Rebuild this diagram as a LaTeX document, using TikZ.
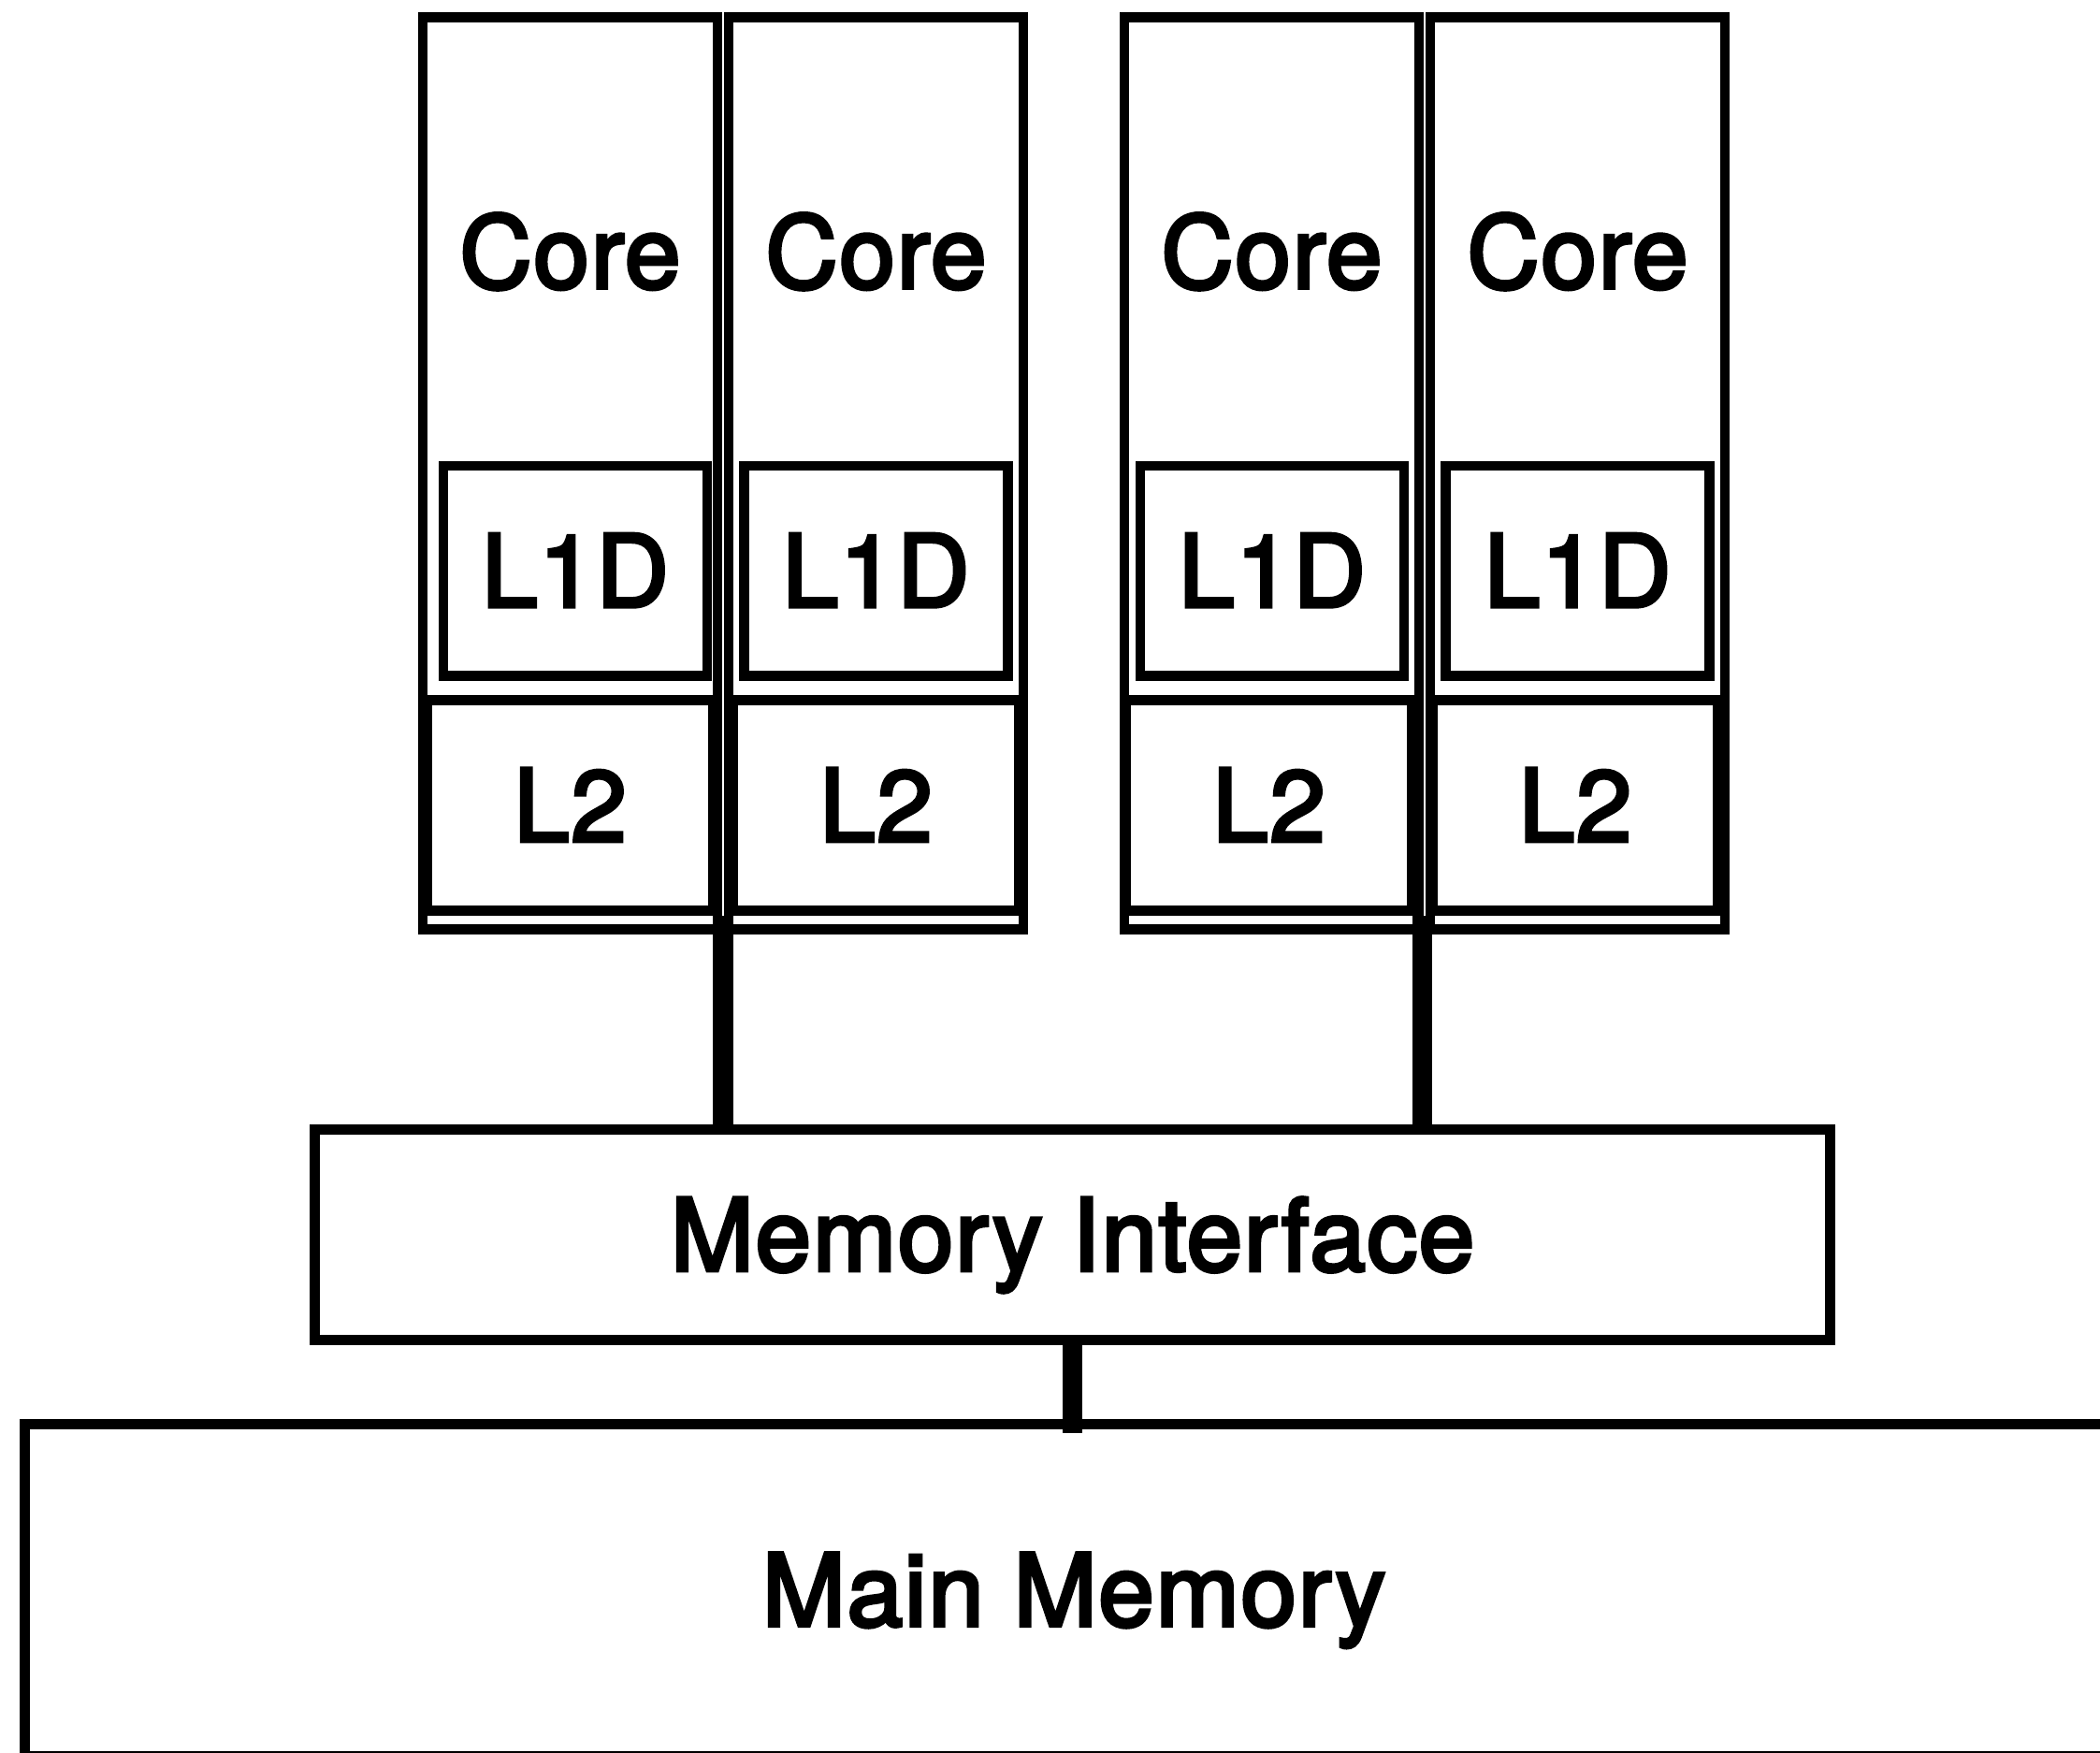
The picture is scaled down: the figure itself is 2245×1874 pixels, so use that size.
\documentclass[tikz,border=0pt]{standalone}
\usepackage{fontspec}
\setmainfont{TeX Gyre Heros}
\newfontfamily\diagfont{TeX Gyre Heros}[FakeBold=3.5, LetterSpace=1.5]
\usetikzlibrary{calc}

\begin{document}
\begin{tikzpicture}[
        x=0.01cm, y=-0.01cm,
        labeltext/.style={
            font=\diagfont\fontsize{30.5}{36}\selectfont,
            text height=0.77cm,
            text depth=0pt,
            inner sep=0pt
        },
        box/.style={
            labeltext,
            draw,
            rectangle,
            line width=3pt
        },
        corebox/.style={box, minimum width=3.15cm, minimum height=9.74cm},
        l1dbox/.style={box, minimum width=2.82cm, minimum height=2.245cm},
        l2box/.style={box, minimum width=3.05cm, minimum height=2.25cm},
        bus/.style={line width=6pt}
    ]

    \useasboundingbox (0,0) rectangle (2245,1874);
    \clip (0,0) rectangle (2245,1874);

    % four cores, each with its own L1D and L2
    \foreach \i/\x/\a/\b in {1/609.5/5.5/0, 2/936.5/0/0, 3/1359.5/0.5/-3, 4/1686.5/0/-2.5} {
        \node[corebox] (core\i) at (\x, 506) {};
        \node[labeltext] (core\i-t) at (\x, 269.5) {Core};
        \node[l1dbox] (l1d\i) at (\x+\a, 610.25) {L1D};
        \node[l2box] (l2\i) at (\x+\b, 861) {L2};
    }

    \node[box, minimum width=16.19cm, minimum height=2.25cm] (mi)
        at (1146.5, 1320) {Memory Interface};
    \node[box, minimum width=22.42cm, minimum height=3.545cm] (mm)
        at (1148, 1699.75) {Main Memory};

    % buses between core pairs and memory
    \foreach \i/\j in {1/2, 3/4} {
        \coordinate (tap\i) at ($(l2\i.south east)!0.5!(l2\j.south west)$);
        \draw[bus] (tap\i) -- (tap\i |- mi.north);
    }
    \draw[bus] (mi.south) -- ([yshift=-0.1475cm]mi.south |- mm.north);

\end{tikzpicture}
\end{document}
